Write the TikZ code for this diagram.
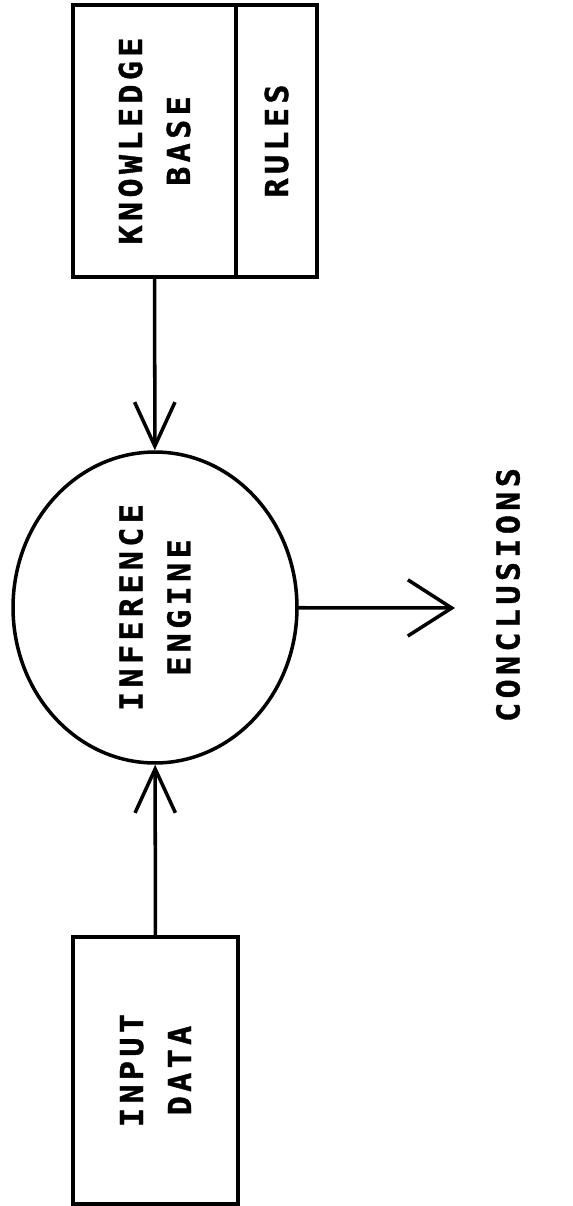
\documentclass[tikz,border=0pt]{standalone}
\usepackage{fontspec}
\usetikzlibrary{shapes.geometric,arrows.meta}
\newfontfamily\plotter[LetterSpace=14,FakeBold=1.2]{DejaVu Sans Mono}
\newcommand{\plotfont}{\plotter\bfseries\fontsize{18}{27.3}\selectfont}

\begin{document}
\begin{tikzpicture}[%
	x=0.02cm,y=-0.02cm,
	every node/.style={
		font=\plotfont,
		rotate=90,
		align=center,
		inner sep=0pt,
	},
	box/.style={draw, line width=2pt},
	flow/.style={line width=2pt, line cap=round,
		-{Straight Barb[length=25pt,width=23pt,line width=2pt]}},
	]
	% fix the margins
	\useasboundingbox (0,0) rectangle (573,1206);
	
	% draw the boxes
	\node[box, minimum width=5.44cm, minimum height=3.26cm] (kb) at (154.5,141) {KNOWLEDGE\\BASE};
	\node[box, minimum width=5.44cm, minimum height=1.62cm] (rules) at (276.5,141) {RULES};
	\node[box, minimum width=5.34cm, minimum height=3.3cm] (input) at (155.5,1070.5) {INPUT\\DATA};
	
	% draw the engine
	\node[box, ellipse, minimum width=6.22cm, minimum height=5.68cm] (engine) at (155,607.5) {INFERENCE\\ENGINE};
	
	% place output label
	\node (concl) at (508,595) {CONCLUSIONS};
	\coordinate (out) at (455,608);
	
	% draw arrows
	\draw[flow] (kb) -- (engine);
	\draw[flow] (input) -- (engine);
	\draw[flow, -{Straight Barb[length=25pt,width=32pt,line width=2pt]}] (engine) -- (out);
\end{tikzpicture}
\end{document}
